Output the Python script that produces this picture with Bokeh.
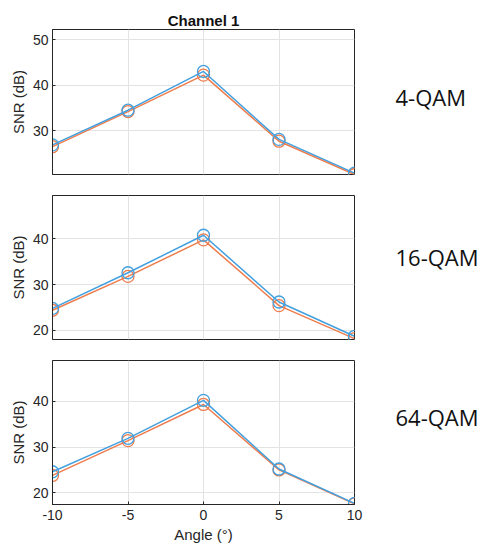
from bokeh.plotting import figure
from bokeh.layouts import column, row
from bokeh.models import FixedTicker, Range1d
from bokeh.core.properties import value
from bokeh.embed import file_html
from bokeh.resources import INLINE

# Angles (degrees) and measured SNR (dB) for Channel 1
angles = [-10, -5, 0, 5, 10]
x_ticks = [-10, -5, 0, 5, 10]
x_tick_labels = ["-10", "-5", "0", "5", "10"]

modulations = ["4-QAM", "16-QAM", "64-QAM"]

snr_blue_4qam = [26.9, 34.5, 43.0, 28.1, 20.7]
snr_orange_4qam = [26.5, 34.2, 42.2, 27.7, 20.4]

snr_blue_16qam = [24.8, 32.6, 40.8, 26.2, 18.7]
snr_orange_16qam = [24.4, 31.8, 39.8, 25.4, 18.2]

snr_blue_64qam = [24.6, 31.9, 40.2, 25.2, 17.7]
snr_orange_64qam = [23.8, 31.4, 39.3, 25.0, 17.6]

y_ranges = [(20.4, 52.2), (18.0, 49.5), (17.45, 48.9)]
y_ticks = [[30, 40, 50], [20, 30, 40], [20, 30, 40]]

series = [
    (snr_blue_4qam, snr_orange_4qam),
    (snr_blue_16qam, snr_orange_16qam),
    (snr_blue_64qam, snr_orange_64qam),
]

BLUE = "#42a0df"
ORANGE = "#ee7c4c"
TEXT = "#262626"
FONT = "Liberation Sans"

WIDTH, HEIGHT = 485, 547
FRAME_W = 302
LEFT = 52
RIGHT = 14
PANEL_W = LEFT + FRAME_W + RIGHT
SIDE_W = WIDTH - PANEL_W

# (top border, frame height, bottom border) of each panel
panel_boxes = [(29, 145, 10), (11, 144, 10), (11, 144, 43)]

figs = []
for i in range(3):
    top, frame_h, bottom = panel_boxes[i]
    last = i == 2
    p = figure(
        width=PANEL_W, height=top + frame_h + bottom,
        min_border_left=LEFT, min_border_right=RIGHT,
        min_border_top=top, min_border_bottom=bottom,
        x_range=Range1d(-10, 10), y_range=Range1d(*y_ranges[i]),
        output_backend="svg", toolbar_location=None,
        background_fill_color="white", border_fill_color="white",
    )
    p.outline_line_color = TEXT
    p.outline_line_width = 1

    if i == 0:
        p.title.text = "Channel 1"
        p.title.align = "center"
        p.title.text_font = FONT
        p.title.text_font_size = "15px"
        p.title.text_font_style = "bold"
        p.title.text_color = "#111111"
        p.title.standoff = 2

    # grid
    for g in (p.xgrid, p.ygrid):
        g.grid_line_color = "#e3e3e3"
        g.grid_line_width = 1
    p.xgrid.ticker = FixedTicker(ticks=x_ticks)
    p.ygrid.ticker = FixedTicker(ticks=y_ticks[i])

    xa = p.xaxis[0]
    if last:
        xa.ticker = FixedTicker(ticks=x_ticks)
        xa.major_label_overrides = dict(zip(x_ticks, x_tick_labels))
        xa.axis_line_color = TEXT
        xa.major_tick_line_color = TEXT
        xa.major_tick_in = 3
        xa.major_tick_out = 0
        xa.minor_tick_line_color = None
        xa.major_label_text_font = FONT
        xa.major_label_text_font_size = "14px"
        xa.major_label_text_color = TEXT
        xa.major_label_standoff = 5
        xa.axis_label = "Angle (\u00b0)"
        xa.axis_label_text_font = FONT
        xa.axis_label_text_font_size = "15px"
        xa.axis_label_text_font_style = "normal"
        xa.axis_label_text_color = TEXT
        xa.axis_label_standoff = 3
    else:
        xa.visible = False

    ya = p.yaxis[0]
    ya.ticker = FixedTicker(ticks=y_ticks[i])
    ya.axis_line_color = TEXT
    ya.major_tick_line_color = TEXT
    ya.major_tick_in = 3
    ya.major_tick_out = 0
    ya.minor_tick_line_color = None
    ya.major_label_text_font = FONT
    ya.major_label_text_font_size = "14px"
    ya.major_label_text_color = TEXT
    ya.major_label_standoff = 4
    ya.axis_label = "SNR (dB)"
    ya.axis_label_text_font = FONT
    ya.axis_label_text_font_size = "15px"
    ya.axis_label_text_font_style = "normal"
    ya.axis_label_text_color = TEXT
    ya.axis_label_standoff = 3

    blue, orange = series[i]
    p.line(angles, orange, line_color=ORANGE, line_width=1.5)
    p.scatter(angles, orange, marker="circle", size=12, fill_color=None,
              line_color=ORANGE, line_width=1.3)
    p.line(angles, blue, line_color=BLUE, line_width=1.5)
    p.scatter(angles, blue, marker="circle", size=12, fill_color=None,
              line_color=BLUE, line_width=1.3)
    figs.append(p)

# side column with the modulation names, in pixel coordinates (y down)
side = figure(
    width=SIDE_W, height=HEIGHT,
    x_range=Range1d(0, SIDE_W), y_range=Range1d(HEIGHT, 0),
    output_backend="svg", toolbar_location=None,
    min_border=0, border_fill_color="white", background_fill_color="white",
)
side.axis.visible = False
side.grid.visible = False
side.outline_line_color = None
label_x = [27, 27, 27]
label_y = [96, 256, 416]
side.text(
    x=label_x, y=label_y, text=modulations,
    text_font=value("Open Sans"), text_font_size="22px",
    text_color="#111111", text_baseline="middle", text_align="left",
)

layout = row(column(*figs, spacing=0), side, spacing=0)
open("out.html", "w").write(file_html(layout, INLINE))
